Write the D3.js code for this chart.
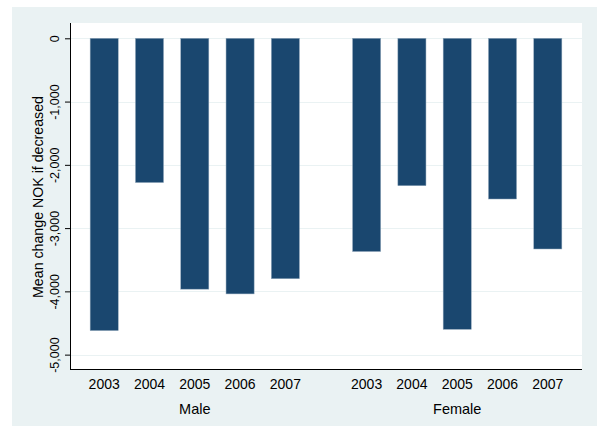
<!DOCTYPE html>
<html>
<head>
<meta charset="utf-8">
<script src="https://cdn.jsdelivr.net/npm/d3@7"></script>
<style>
  html, body { margin: 0; padding: 0; background: #fff; }
  text { font-family: "Liberation Sans", Arial, sans-serif; fill: #000; }
</style>
</head>
<body>
<svg id="chart" width="597" height="426"></svg>
<script>
'use strict';

var groups = ["Male", "Female"];
var years = ["2003", "2004", "2005", "2006", "2007"];
var maleValues = [-4620, -2280, -3965, -4040, -3800];
var femaleValues = [-3370, -2330, -4600, -2540, -3330];
var yTicks = [0, -1000, -2000, -3000, -4000, -5000];
var yTitle = "Mean change NOK if decreased";

var rows = [];
years.forEach(function(y, i) { rows.push({ group: "Male", year: y, value: maleValues[i] }); });
years.forEach(function(y, i) { rows.push({ group: "Female", year: y, value: femaleValues[i] }); });

var svg = d3.select("#chart");
var plot = { left: 70, right: 582, top: 23, bottom: 369 };

// outer light panel
svg.append("rect")
   .attr("x", 12).attr("y", 7)
   .attr("width", 597 - 12).attr("height", 426 - 7)
   .attr("fill", "#eaf2f3");

// plot region
svg.append("rect")
   .attr("x", plot.left).attr("y", plot.top)
   .attr("width", plot.right - plot.left).attr("height", plot.bottom - plot.top)
   .attr("fill", "#fff");

var y = d3.scaleLinear()
   .domain([-5227, 242])
   .range([plot.bottom, plot.top]);

var x0 = d3.scaleBand()
   .domain(groups)
   .range([plot.left, plot.right])
   .paddingInner(0.137)
   .paddingOuter(0.044);

var x1 = d3.scaleBand()
   .domain(years)
   .range([0, x0.bandwidth()])
   .paddingInner(0.38)
   .paddingOuter(0.19);

// gridlines
svg.append("g").selectAll("line")
   .data(yTicks)
   .enter().append("line")
   .attr("x1", plot.left).attr("x2", plot.right)
   .attr("y1", function(d) { return Math.round(y(d)) + 0.5; })
   .attr("y2", function(d) { return Math.round(y(d)) + 0.5; })
   .attr("stroke", "#eaf2f3")
   .attr("stroke-width", 1.2);

// bars
svg.append("g").selectAll("rect")
   .data(rows)
   .enter().append("rect")
   .attr("x", function(d) { return x0(d.group) + x1(d.year); })
   .attr("width", x1.bandwidth())
   .attr("y", function(d) { return y(0); })
   .attr("height", function(d) { return y(d.value) - y(0); })
   .attr("fill", "#1a476f")
   .attr("stroke", "#8fa6ba")
   .attr("stroke-width", 0.5);

// y axis, plain hyphen for minus like the original
var fmt = d3.format(",");
var yAxis = d3.axisLeft(y)
   .tickValues(yTicks)
   .tickSize(5)
   .tickFormat(function(d) { return fmt(d).replace("\u2212", "-"); });

var gy = svg.append("g")
   .attr("transform", "translate(" + plot.left + ",0)")
   .call(yAxis);
gy.select(".domain").attr("stroke", "#000").attr("d", "M0.5," + plot.top + "V" + plot.bottom);
gy.selectAll(".tick line").attr("stroke", "#000");
gy.selectAll(".tick text")
   .attr("font-size", 12.5)
   .attr("font-family", "Liberation Sans, Arial, sans-serif")
   .attr("fill", "#000")
   .attr("text-anchor", "middle")
   .attr("x", null).attr("dy", null)
   .attr("transform", "translate(-11,0) rotate(-90)")
   .attr("y", 0);

// x axis line
svg.append("line")
   .attr("x1", plot.left).attr("x2", plot.right)
   .attr("y1", plot.bottom + 0.5).attr("y2", plot.bottom + 0.5)
   .attr("stroke", "#000");

// year labels
svg.append("g").selectAll("text")
   .data(rows)
   .enter().append("text")
   .attr("x", function(d) { return x0(d.group) + x1(d.year) + x1.bandwidth() / 2; })
   .attr("y", 389)
   .attr("text-anchor", "middle")
   .attr("font-size", 14)
   .text(function(d) { return d.year; });

// group labels
svg.append("g").selectAll("text")
   .data(groups)
   .enter().append("text")
   .attr("x", function(d) { return x0(d) + x0.bandwidth() / 2; })
   .attr("y", 414)
   .attr("text-anchor", "middle")
   .attr("font-size", 14.5)
   .text(function(d) { return d; });

// y title
svg.append("text")
   .attr("transform", "translate(43,197) rotate(-90)")
   .attr("text-anchor", "middle")
   .attr("font-size", 14.2)
   .text(yTitle);
</script>
</body>
</html>
